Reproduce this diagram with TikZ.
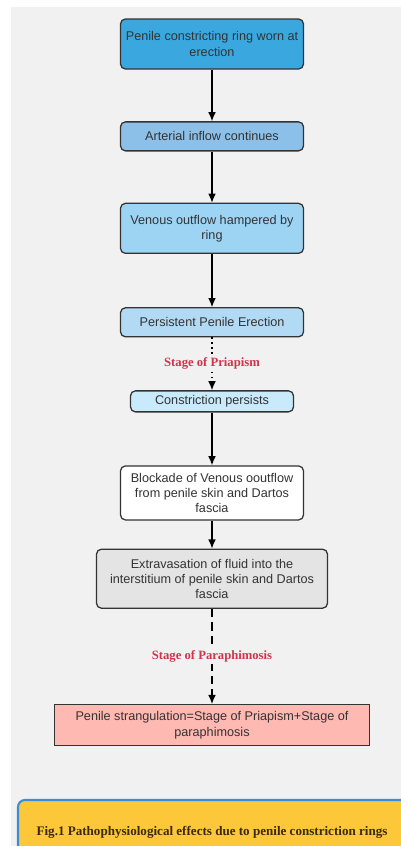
\documentclass[tikz,border=0pt]{standalone}
\usepackage{fontspec}
\setmainfont{Liberation Sans}
\newfontfamily\stagefont{Liberation Serif}
\usetikzlibrary{arrows.meta}
\usetikzlibrary{positioning}

\definecolor{panelgray}{HTML}{F1F1F1}
\definecolor{boxline}{HTML}{333333}
\definecolor{boxtext}{HTML}{333333}
\definecolor{ringblue}{HTML}{3BA7DF}
\definecolor{inflowblue}{HTML}{8CC0E8}
\definecolor{outflowblue}{HTML}{9DD4F4}
\definecolor{erectblue}{HTML}{B2DAF5}
\definecolor{persistblue}{HTML}{C8EAFB}
\definecolor{fluidgray}{HTML}{E4E4E4}
\definecolor{strangpink}{HTML}{FDB9B2}
\definecolor{stagered}{HTML}{D0334A}
\definecolor{capyellow}{HTML}{FDC73A}
\definecolor{capblue}{HTML}{3A8FD4}
\definecolor{captext}{HTML}{3A2A05}

\begin{document}
\begin{tikzpicture}[->,>={Latex[length=6.5pt,width=5.5pt]}, line width=0.9pt, font=\fontsize{9}{10.8}\selectfont]
  \tikzstyle{stepbox}=[draw=boxline, line width=0.9pt, rounded corners=3.5pt, text=boxtext, align=center, inner sep=2pt, minimum width=4.575cm]
  \tikzstyle{stagelabel}=[fill=panelgray, text=stagered, inner sep=1pt, font=\stagefont\bfseries\fontsize{9}{10.8}\selectfont]

  % background panel and caption bar
  \useasboundingbox (0,0) rectangle (10.025,-21.15);
  \fill[-, panelgray] (0.275,-0.175) rectangle (10.025,-21.15);
  \filldraw[-, fill=capyellow, draw=capblue, line width=1.5pt, rounded corners=5pt] (0.45,-21.5) |- (10.4,-20.0) -- (10.4,-21.5) -- cycle;
  \node[text=captext, font=\stagefont\bfseries\fontsize{9.3}{11}\selectfont] (caption) at (5.3,-20.8) {Fig.1 Pathophysiological effects due to penile constriction rings};

  \node[stepbox, fill=ringblue, minimum height=1.25cm] (ring) at (5.3,-1.1) {Penile constricting ring worn at\\erection};
  \node[stepbox, fill=inflowblue, minimum height=0.725cm, below=1.29cm of ring] (inflow) {Arterial inflow continues};
  \node[stepbox, fill=outflowblue, minimum height=1.25cm, below=1.28cm of inflow] (outflow) {Venous outflow hampered by\\ring};
  \node[stepbox, fill=erectblue, minimum height=0.725cm, below=1.33cm of outflow] (erection) {Persistent Penile Erection};
  \node[stepbox, fill=persistblue, minimum width=4.075cm, minimum height=0.525cm, below=1.32cm of erection] (persist) {Constriction persists};
  \node[stepbox, fill=white, minimum height=1.35cm, below=1.32cm of persist] (blockade) {Blockade of Venous ooutflow\\from penile skin and Dartos\\fascia};
  \node[stepbox, fill=fluidgray, minimum width=5.775cm, minimum height=1.475cm, below=0.70cm of blockade] (fluid) {Extravasation of fluid into the\\interstitium of penile skin and Dartos\\fascia};
  \node[stepbox, fill=strangpink, rounded corners=0pt, minimum width=7.875cm, minimum height=1.025cm, below=2.38cm of fluid] (strang) {Penile strangulation=Stage of Priapism+Stage of\\paraphimosis};

  \path (ring) edge (inflow)
      (inflow) edge (outflow)
      (outflow) edge (erection)
      (erection) edge [dash pattern=on 1pt off 2.5pt] node[stagelabel] {Stage of Priapism} (persist)
      (persist) edge (blockade)
      (blockade) edge (fluid)
      (fluid) edge [dash pattern=on 6pt off 3.5pt] node[stagelabel] {Stage of Paraphimosis} (strang)
  ;
\end{tikzpicture}
\end{document}
